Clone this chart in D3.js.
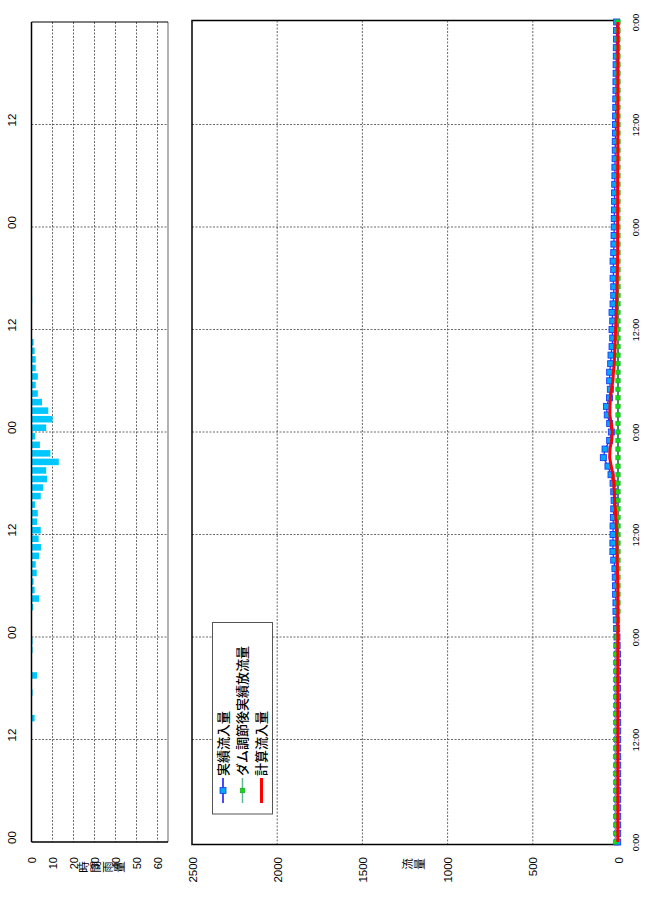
<!DOCTYPE html>
<html><head><meta charset="utf-8">
<script src="https://cdn.jsdelivr.net/npm/d3@7"></script>
<style>
body{margin:0;background:#fff}
svg{display:block}
text{font-family:"Liberation Sans",Arial,sans-serif;fill:#000}
</style>
</head><body><svg id="c" width="645" height="919"></svg>
<script>
// ---- data ----
const hourTicks = [0,12,24,36,48,60,72,84,96];
const leftTimeLabels = ["00","12","00","12","00","12","00","12"];
const rightTimeLabels = ["0:00","12:00","0:00","12:00","0:00","12:00","0:00","12:00","0:00"];
const rainTicks = [0,10,20,30,40,50,60];
const flowTicks = [0,500,1000,1500,2000,2500];
const rainTitle = "時間雨量";
const flowTitle = "流量";
const seriesNames = ["実績流入量","ダム調節後実績放流量","計算流入量"];
// hourly rainfall (mm), hour index 0..95 from the bottom (first 0:00)
const rainfall = [
  0,0,0,0,0,0,0,0,0,0,
  0,0,0,0,1.5,0,0,0.5,0,2.6,
  0,0,0.5,0.5,0,0,0,0.8,3.6,1.5,
  1,2.5,2,3.6,4.5,3.4,4.4,2.6,3,1.7,
  4.4,5.5,7.4,7,13,9,4,1.7,7,10,
  8,5,3,2,3,2,2,1.5,1,0,
  0,0,0.2,0.3,0,0,0,0,0,0,
  0,0,0,0,0,0,0,0,0,0,
  0,0,0,0,0,0,0,0,0,0,
  0,0,0,0,0,0
];
// hourly flows (m3/s), hour 0..96
const observedInflow = [
  2,2,2,2,2,2,2,2,2,2,
  2,2,2,2,2,3,3,3,3,3,
  3,3,3,5,6,8,10,12,12,14,
  15,16,18,25,30,30,29,29,27,25,
  23,25,29,41,59,86,76,49,39,49,
  63,68,50,45,49,49,43,41,35,31,
  35,31,35,29,25,25,29,25,29,25,
  24,23,22,22,21,20,20,19,18,18,
  17,16,16,15,15,14,13,13,12,12,
  11,11,10,10,9,9,8
];
const damRelease = [
  15,15,15,15,15,15,15,15,15,15,
  15,15,15,15,15,15,15,15,15,15,
  15,15,15,12,8,5,2,0,0,0,
  0,0,0,0,0,0,0,0,0,0,
  0,0,0,0,0,0,0,0,0,0,
  0,0,0,0,0,0,0,0,0,0,
  0,0,0,0,0,0,0,0,0,0,
  0,0,0,0,0,0,0,0,0,0,
  0,0,0,0,0,0,0,0,0,0,
  0,0,0,0,0,0,0
];
const calcInflow = [
  1,1,1,1,1,1,1,1,1,1,
  1,1,1,1,1,1,1,1,1,1,
  1,1,1,1,1,1,1,1,1,1,
  1,3,4,5,6,7,8,10,13,16,
  20,22,25,29,40,49,47,38,33,40,
  48,47,45,38,30,27,22,20,18,16,
  14,12,10,9,7,6,5,4,3,2,
  2,2,2,2,2,2,2,2,2,2,
  1,1,1,1,1,1,1,1,1,1,
  1,1,1,1,1,1,1
];

// ---- drawing ----
const svg = d3.select("#c");
const y = d3.scaleLinear().domain([0,96]).range([842,22]);
const xr = d3.scaleLinear().domain([0,65]).range([31.5,168]);
const xf = d3.scaleLinear().domain([0,2500]).range([618,192]);
const grid = {stroke:"#444","stroke-width":0.8,"stroke-dasharray":"2,1.5"};
function applyAttrs(sel, o){ for(const k in o) sel.attr(k,o[k]); return sel; }

// ===== rainfall panel =====
const L = svg.append("g");
applyAttrs(L.selectAll("line.vg").data(rainTicks.filter(d=>d>0)).join("line")
  .attr("x1",d=>xr(d)).attr("x2",d=>xr(d)).attr("y1",y(96)).attr("y2",y(0)), grid);
applyAttrs(L.selectAll("line.hg").data(hourTicks.slice(1,8)).join("line")
  .attr("x1",xr(0)).attr("x2",xr(65)).attr("y1",d=>y(d)).attr("y2",d=>y(d)), grid);
L.append("line").attr("x1",xr(65)).attr("x2",xr(65)).attr("y1",y(96)).attr("y2",y(0)).attr("stroke","#999").attr("stroke-width",1.5);
L.append("line").attr("x1",xr(0)).attr("x2",xr(65)).attr("y1",y(96)).attr("y2",y(96)).attr("stroke","#000").attr("stroke-width",1.2);
L.append("line").attr("x1",xr(0)).attr("x2",xr(65)).attr("y1",y(0)).attr("y2",y(0)).attr("stroke","#000").attr("stroke-width",1.5);
L.selectAll("rect.bar").data(rainfall.map((v,i)=>({v,i})).filter(d=>d.v>0)).join("rect")
  .attr("x",xr(0)).attr("width",d=>xr(d.v)-xr(0))
  .attr("y",d=>y(d.i+1)+1).attr("height",d=>y(d.i)-y(d.i+1)-2)
  .attr("fill","#00c8ff");
L.append("line").attr("x1",xr(0)).attr("x2",xr(0)).attr("y1",y(96)).attr("y2",y(0)).attr("stroke","#000").attr("stroke-width",1.5);

// rainfall value axis
const ra = L.append("g").attr("transform",`translate(0,${y(0)})`)
  .call(d3.axisBottom(xr).tickValues(rainTicks).tickSize(0).tickFormat(d3.format("d")));
ra.select(".domain").remove();
ra.selectAll("text").attr("transform","rotate(-90)").attr("x",-15).attr("y",0).attr("dy","0.35em")
  .attr("text-anchor","end").style("font-size","11px").style("font-family","Liberation Sans, Arial");
// left time axis
const lt = L.append("g").attr("transform",`translate(${xr(0)},0)`)
  .call(d3.axisLeft(y).tickValues(hourTicks.slice(0,8)).tickSize(0).tickFormat((d,i)=>leftTimeLabels[i]));
lt.select(".domain").remove();
lt.selectAll("text").attr("transform","rotate(-90)").attr("x",5).attr("y",-19.5).attr("dy","0.35em")
  .attr("text-anchor","middle").style("font-size","11.5px").style("font-family","Liberation Sans, Arial");
// rainfall title (stacked characters)
L.selectAll("text.rt").data(Array.from(rainTitle)).join("text")
  .attr("transform",(c,i)=>`translate(${84+i*12},867) rotate(-90)`)
  .attr("text-anchor","middle").attr("dy","0.35em")
  .style("font-family","Noto Sans CJK JP").style("font-size","11.5px").text(c=>c);

// ===== flow panel =====
const R = svg.append("g");
applyAttrs(R.selectAll("line.vg").data(flowTicks.filter(d=>d>0&&d<2500)).join("line")
  .attr("x1",d=>xf(d)).attr("x2",d=>xf(d)).attr("y1",20.5).attr("y2",844.5), grid);
applyAttrs(R.selectAll("line.hg").data(hourTicks.slice(1,8)).join("line")
  .attr("x1",xf(2500)).attr("x2",xf(0)).attr("y1",d=>y(d)).attr("y2",d=>y(d)), grid);
R.append("rect").attr("x",xf(2500)).attr("y",20.5).attr("width",xf(0)-xf(2500)).attr("height",824)
  .attr("fill","none").attr("stroke","#000").attr("stroke-width",1.5);

const lineOf = arr => d3.line().x(d=>xf(d)).y((d,i)=>y(i))(arr);
// observed inflow (blue)
R.append("path").attr("d",lineOf(observedInflow)).attr("fill","none").attr("stroke","#3030ff").attr("stroke-width",1.3);
R.selectAll("rect.ob").data(observedInflow).join("rect")
  .attr("x",d=>xf(d)-3).attr("y",(d,i)=>y(i)-3).attr("width",6).attr("height",6)
  .attr("fill","#00a8ff").attr("stroke","#1a3cff").attr("stroke-width",0.9);
// dam release (green)
R.append("path").attr("d",lineOf(damRelease)).attr("fill","none").attr("stroke","#50b080").attr("stroke-width",1.3);
R.selectAll("rect.dr").data(damRelease).join("rect")
  .attr("x",d=>xf(d)-2.2).attr("y",(d,i)=>y(i)-2.2).attr("width",4.4).attr("height",4.4)
  .attr("fill","#11dd11").attr("stroke","#22aa33").attr("stroke-width",0.6);
// calculated inflow (red)
R.append("path").attr("d",lineOf(calcInflow)).attr("fill","none").attr("stroke","#ff0000").attr("stroke-width",3);

// flow value axis
const fa = R.append("g").attr("transform",`translate(0,844)`)
  .call(d3.axisBottom(xf).tickValues(flowTicks).tickSize(0).tickFormat(d3.format("d")));
fa.select(".domain").remove();
fa.selectAll("text").attr("transform","rotate(-90)").attr("x",-13).attr("y",0).attr("dy","0.35em")
  .attr("text-anchor","end").style("font-size","11.5px").style("font-family","Liberation Sans, Arial");
// right time axis
const rt = R.append("g").attr("transform",`translate(${xf(0)},0)`)
  .call(d3.axisRight(y).tickValues(hourTicks).tickSize(0).tickFormat((d,i)=>rightTimeLabels[i]));
rt.select(".domain").remove();
rt.selectAll("text").attr("transform","rotate(-90)").attr("x",0).attr("y",17.5).attr("dy","0.35em")
  .attr("text-anchor","middle").style("font-size","9px").style("font-family","Liberation Sans, Arial");
// flow title
R.selectAll("text.ft").data(Array.from(flowTitle)).join("text")
  .attr("transform",(c,i)=>`translate(${408+i*12},864) rotate(-90)`)
  .attr("text-anchor","middle").attr("dy","0.35em")
  .style("font-family","Noto Sans CJK JP").style("font-size","11.5px").text(c=>c);

// legend
const lg = svg.append("g");
lg.append("rect").attr("x",212.5).attr("y",622.5).attr("width",60).attr("height",191.5)
  .attr("fill","#fff").attr("stroke","#555").attr("stroke-width",1);
const legendStyles = [
  {line:"#4a4aff", w:2, marker:{s:6, fill:"#00a8ff", stroke:"#1a3cff"}},
  {line:"#60b890", w:1.5, marker:{s:4.4, fill:"#11dd11", stroke:"#22aa33"}},
  {line:"#ff0000", w:3, marker:null}
];
const lx = [223, 242.5, 261.5];
seriesNames.forEach((name,i)=>{
  const st = legendStyles[i];
  lg.append("line").attr("x1",lx[i]).attr("x2",lx[i]).attr("y1",778).attr("y2",803)
    .attr("stroke",st.line).attr("stroke-width",st.w);
  if(st.marker){
    lg.append("rect").attr("x",lx[i]-st.marker.s/2).attr("y",790.5-st.marker.s/2)
      .attr("width",st.marker.s).attr("height",st.marker.s)
      .attr("fill",st.marker.fill).attr("stroke",st.marker.stroke).attr("stroke-width",0.8);
  }
  lg.append("text").attr("transform",`translate(${lx[i]},776) rotate(-90)`)
    .attr("dy","0.36em").attr("text-anchor","start")
    .style("font-family","Noto Sans CJK JP").style("font-size","13px").style("font-weight","500").text(name);
});
</script>
</body></html>
